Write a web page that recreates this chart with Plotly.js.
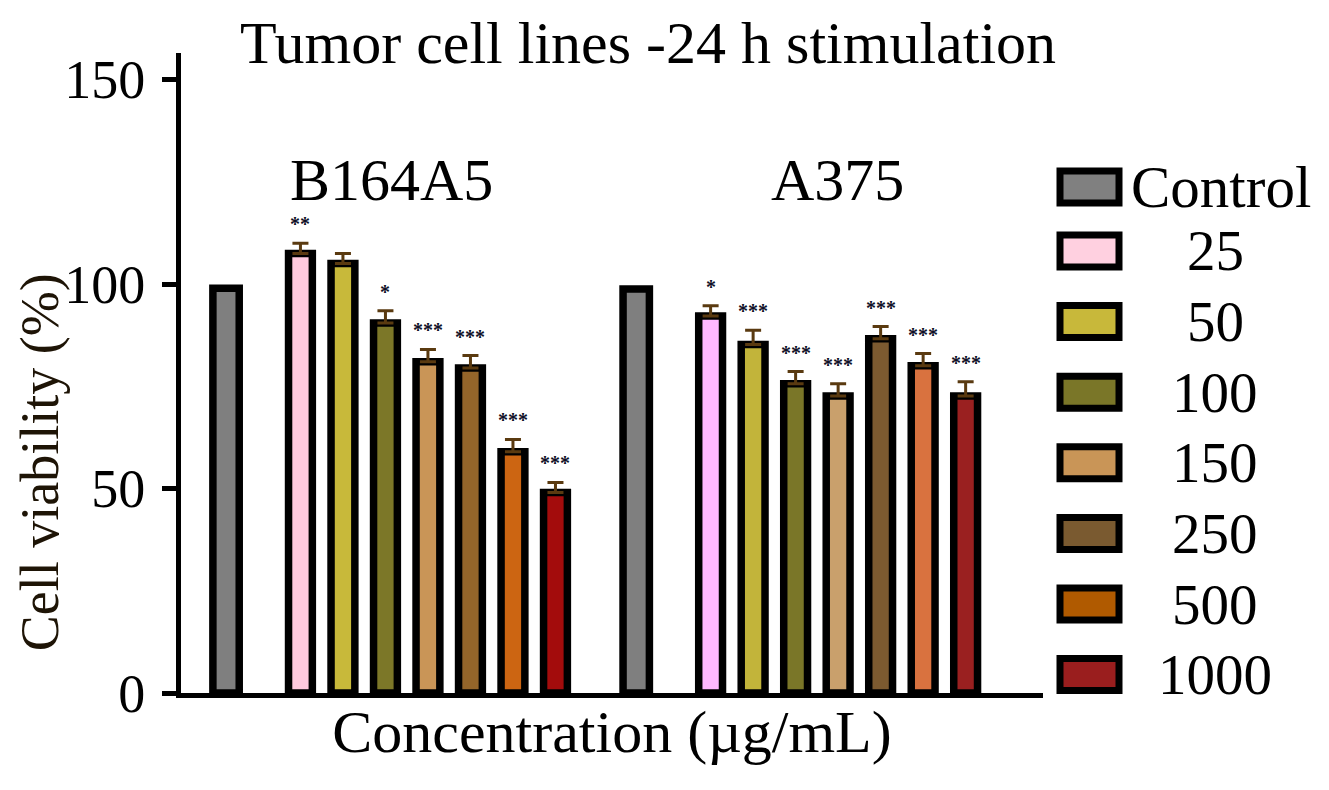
<!DOCTYPE html>
<html>
<head>
<meta charset="utf-8">
<script src="https://cdn.plot.ly/plotly-3.0.1.min.js"></script>
<style>html,body{margin:0;padding:0;background:#fff;}#chart{width:1329px;height:790px;}</style>
</head>
<body>
<div id="chart"></div>
<script>
// ---- data ----
const groups = ["B164A5", "A375"];
const concentrations = ["Control", "25", "50", "100", "150", "250", "500", "1000"];
const viabilityB164A5 = [99, 107.5, 105, 90.5, 81, 79.5, 59, 49];
const viabilityA375 = [98.8, 92.2, 85.2, 75.6, 72.6, 86.6, 80, 72.6];
const errorB164A5 = [0, 2.5, 2.5, 3, 3, 3, 3, 2.5];
const errorA375 = [0, 2.5, 3.5, 3, 3, 3, 3, 3.5];
const signifB164A5 = ["", "**", "", "*", "***", "***", "***", "***"];
const signifA375 = ["", "*", "***", "***", "***", "***", "***", "***"];
const yTickValues = [0, 50, 100, 150];

// ---- styles ----
const colorsB164A5 = ["#7f7f7f", "#ffcade", "#c8b93a", "#7c7728", "#c99557", "#94652a", "#cc6512", "#a30c0c"];
const colorsA375 = ["#7f7f7f", "#ffb8ff", "#c2b43a", "#7a7628", "#c9a06c", "#7c5a30", "#d9723f", "#9a2020"];
const legendColors = ["#808080", "#ffd0e0", "#c8b83a", "#7a7628", "#c99557", "#7a5a30", "#b05a00", "#9a1e1e"];
const FONT = "Liberation Serif, Times New Roman, serif";

function pos(g, i) { return g * 9.65 + (i === 0 ? 0 : i + 0.75); }

const traces = concentrations.map((c, i) => ({
  type: "bar",
  name: c,
  x: groups.map((g, gi) => pos(gi, i)),
  y: [viabilityB164A5[i], viabilityA375[i]],
  width: i === 0 ? 0.62 : 0.56,
  marker: {
    color: [colorsB164A5[i], colorsA375[i]],
    line: { color: "#000", width: 7.5 }
  },
  error_y: {
    type: "data",
    symmetric: false,
    array: [errorB164A5[i], errorA375[i]],
    arrayminus: [0, 0],
    visible: i > 0,
    color: "#5a3a10",
    thickness: 3,
    width: 8
  },
  showlegend: false,
  hoverinfo: "x+y"
}));

const annotations = [];
// significance marks
concentrations.forEach((c, i) => {
  [[signifB164A5, viabilityB164A5, errorB164A5], [signifA375, viabilityA375, errorA375]].forEach((arr, gi) => {
    if (arr[0][i]) {
      annotations.push({
        x: pos(gi, i), y: arr[1][i] + arr[2][i], xref: "x", yref: "y",
        text: "<b>" + arr[0][i] + "</b>", showarrow: false, yanchor: "bottom", yshift: 6,
        font: { family: FONT, size: 20, color: "#101028" }
      });
    }
  });
});
// group labels
const groupLabelOffset = [3.9, 4.73];
groups.forEach((g, gi) => {
  annotations.push({
    x: pos(gi, 0) + groupLabelOffset[gi], y: 125.5, xref: "x", yref: "y",
    text: g, showarrow: false, yanchor: "middle",
    font: { family: FONT, size: 60, color: "#000" }
  });
});
// y axis title
annotations.push({
  x: -0.164, y: 0.36, xref: "paper", yref: "paper", textangle: -90,
  text: "Cell viability (%)", showarrow: false, xanchor: "center", yanchor: "middle",
  font: { family: FONT, size: 54, color: "#1e1406" }
});

// manual legend (large swatches like the reference)
const plotL = 181, plotW = 862, plotB = 693, plotH = 640;
const px2x = p => (p - plotL) / plotW;
const px2y = p => (plotB - p) / plotH;
const shapes = [];
concentrations.forEach((c, i) => {
  const cy = i === 0 ? 187 : 251 + (i - 1) * 70.6;
  shapes.push({
    type: "rect", xref: "paper", yref: "paper",
    x0: px2x(1060), x1: px2x(1119), y0: px2y(cy + 16), y1: px2y(cy - 16),
    fillcolor: legendColors[i], line: { color: "#000", width: 7 }
  });
  annotations.push({
    x: px2x(i === 0 ? 1221 : 1215), y: px2y(cy), xref: "paper", yref: "paper",
    text: c, showarrow: false, xanchor: "center", yanchor: "middle",
    font: { family: FONT, size: i === 0 ? 59 : 57, color: "#000" }
  });
});

const layout = {
  width: 1329, height: 790,
  margin: { l: 181, r: 286, t: 53, b: 97, pad: 0 },
  paper_bgcolor: "#fff", plot_bgcolor: "#fff",
  barmode: "overlay",
  showlegend: false,
  font: { family: FONT, color: "#000" },
  title: {
    text: "Tumor cell lines -24 h stimulation",
    font: { family: FONT, size: 60, color: "#000" },
    x: px2x(648), xref: "paper", xanchor: "center",
    y: 1 - 42 / 790, yref: "container", yanchor: "middle"
  },
  xaxis: {
    range: [-1.06, 19.22],
    showgrid: false, zeroline: false,
    showline: true, linecolor: "#000", linewidth: 5,
    showticklabels: false, ticks: "",
    title: { text: "Concentration (µg/mL)", font: { family: FONT, size: 60, color: "#000" }, standoff: 14 }
  },
  yaxis: {
    range: [0, 156.5],
    tickvals: yTickValues,
    ticktext: yTickValues.map(String),
    showgrid: false, zeroline: false,
    showline: true, linecolor: "#000", linewidth: 5,
    ticks: "outside", ticklen: 14, tickwidth: 5, tickcolor: "#000",
    tickfont: { family: FONT, size: 54, color: "#000" },
    ticklabelstandoff: 6
  },
  shapes: shapes,
  annotations: annotations
};

Plotly.newPlot("chart", traces, layout, { displayModeBar: false, staticPlot: true });
</script>
</body>
</html>
